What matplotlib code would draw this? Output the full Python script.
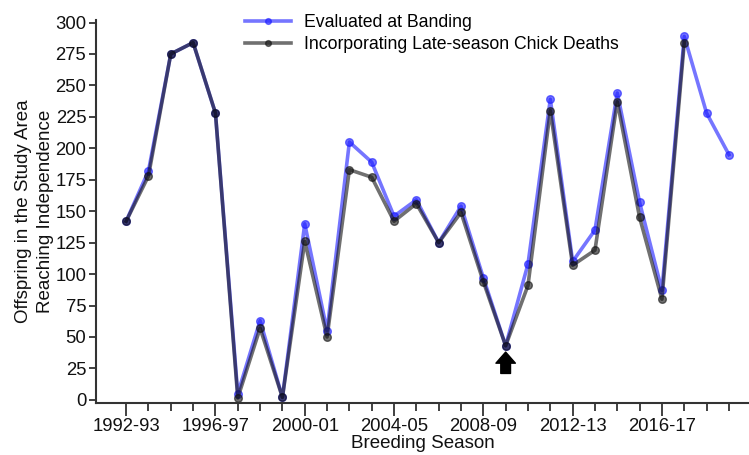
import matplotlib.pyplot as plt
import numpy as np

plt.rcParams['font.family'] = ['Liberation Sans', 'DejaVu Sans']

seasons = ['1992-93', '1993-94', '1994-95', '1995-96', '1996-97', '1997-98', '1998-99',
           '1999-00', '2000-01', '2001-02', '2002-03', '2003-04', '2004-05', '2005-06',
           '2006-07', '2007-08', '2008-09', '2009-10', '2010-11', '2011-12', '2012-13',
           '2013-14', '2014-15', '2015-16', '2016-17', '2017-18', '2018-19', '2019-20']
banding = [142, 182, 275, 284, 228, 5, 63, 2, 140, 55, 205, 189, 146, 159, 125, 154,
           97, 43, 108, 239, 110, 135, 244, 157, 87, 289, 228, 195]
late_deaths = [142, 178, 275, 284, 228, 1.5, 57, 2, 126, 50, 183, 177, 142, 156, 125, 149,
               94, 43, 91, 230, 107, 119, 237, 145, 80, 284]
tick_labels = ['1992-93', '1996-97', '2000-01', '2004-05', '2008-09', '2012-13', '2016-17']

x = np.arange(len(seasons))
x_late = np.arange(len(late_deaths))

fig = plt.figure(figsize=(7.49, 4.55), dpi=100)
ax = fig.add_axes([96 / 749, 1 - 403 / 455, 653 / 749, 383 / 455])

ax.plot(x, banding, color='#1a1aff', alpha=0.6, lw=2.6, marker='o', ms=5.5,
        label='Evaluated at Banding')
ax.plot(x_late, late_deaths, color='#111111', alpha=0.6, lw=2.6, marker='o', ms=5.5,
        label='Incorporating Late-season Chick Deaths')

# arrow marking 2009-10
ax.annotate('', xy=(17, 38), xytext=(17, 21),
            arrowprops=dict(facecolor='black', edgecolor='black', width=7, headwidth=14,
                            headlength=8, shrink=0))

ax.set_xlim(-1.35, 27.9)
ax.set_ylim(-2.5, 302)
ax.set_yticks(np.arange(0, 301, 25))
ax.set_xticks(x, minor=True)
ax.set_xticks([seasons.index(t) for t in tick_labels])
ax.set_xticklabels(tick_labels)

for s in ['top', 'right']:
    ax.spines[s].set_visible(False)
for s in ['left', 'bottom']:
    ax.spines[s].set_linewidth(1.5)
    ax.spines[s].set_color('#333333')
ax.tick_params(axis='both', which='both', direction='out', width=1.3,
               color='#333333', labelsize=13.3, labelcolor='#111111')
ax.tick_params(axis='x', which='major', length=9, pad=2)
ax.tick_params(axis='x', which='minor', length=6)
ax.tick_params(axis='y', length=5, pad=2)

ax.set_xlabel('Breeding Season', fontsize=13.5, labelpad=0, color='#111111')
ax.set_ylabel('Offspring in the Study Area\nReaching Independence', fontsize=13.5,
              linespacing=1.35, labelpad=1, color='#111111')

fig.legend(loc='upper left', bbox_to_anchor=(229 / 749, 1.004), frameon=False,
           fontsize=12.7, handlelength=2.6, handletextpad=0.75, labelspacing=0.3,
           markerscale=0.75)

plt.savefig('out.png', dpi=100)
